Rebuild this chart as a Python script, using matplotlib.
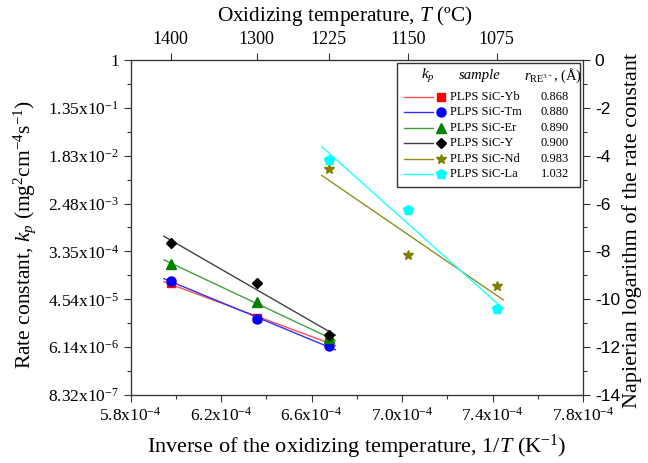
import numpy as np
import matplotlib
matplotlib.use('Agg')
import matplotlib.pyplot as plt
from matplotlib.patches import Rectangle
from matplotlib.lines import Line2D
from matplotlib.ticker import MultipleLocator

plt.rcParams['font.family'] = ['Liberation Serif', 'DejaVu Serif']
plt.rcParams['mathtext.fontset'] = 'custom'
plt.rcParams['mathtext.rm'] = 'Liberation Serif'
plt.rcParams['mathtext.it'] = 'Liberation Serif:italic'
plt.rcParams['mathtext.bf'] = 'Liberation Serif:bold'

# oxidizing temperatures (deg C) for the two groups of samples
temp_low_re = [1400, 1300, 1225]
temp_high_re = [1225, 1150, 1075]

# Napierian logarithm of kp
ln_Yb = [-9.33, -10.80, -11.77]
ln_Tm = [-9.22, -10.82, -11.95]
ln_Er = [-8.52, -10.10, -11.63]
ln_Y = [-7.66, -9.31, -11.49]
ln_Nd = [-4.57, -8.15, -9.43]
ln_La = [-4.18, -6.27, -10.42]

samples = ['PLPS SiC-Yb', 'PLPS SiC-Tm', 'PLPS SiC-Er', 'PLPS SiC-Y', 'PLPS SiC-Nd', 'PLPS SiC-La']
r_re = ['0.868', '0.880', '0.890', '0.900', '0.983', '1.032']

left_ticks = [0, -2, -4, -6, -8, -10, -12, -14]
left_labels = ['1', r'1.35x10$^{-1}$', r'1.83x10$^{-2}$', r'2.48x10$^{-3}$', r'3.35x10$^{-4}$',
               r'4.54x10$^{-5}$', r'6.14x10$^{-6}$', r'8.32x10$^{-7}$']
bottom_ticks = [5.8e-4, 6.2e-4, 6.6e-4, 7.0e-4, 7.4e-4, 7.8e-4]
bottom_labels = [r'5.8x10$^{-4}$', r'6.2x10$^{-4}$', r'6.6x10$^{-4}$', r'7.0x10$^{-4}$',
                 r'7.4x10$^{-4}$', r'7.8x10$^{-4}$']
top_temps = [1400, 1300, 1225, 1150, 1075]

def inv(t):
    return 1.0 / (np.asarray(t, dtype=float) + 273.15)

series = [
    (temp_low_re, ln_Yb, 's', 'red', '#ff5050'),
    (temp_low_re, ln_Tm, 'o', 'blue', '#3030ff'),
    (temp_low_re, ln_Er, '^', 'green', '#40a040'),
    (temp_low_re, ln_Y, 'D', 'black', '#404040'),
    (temp_high_re, ln_Nd, '*', '#808000', '#909020'),
    (temp_high_re, ln_La, 'p', 'cyan', '#20ffff'),
]
msizes = [5.5, 6.5, 6.5, 5.5, 7.5, 7.5]

fig = plt.figure(figsize=(6.48, 4.63), dpi=100)
ax = fig.add_axes([0.2017, 0.1469, 0.698, 0.7235])

for (t, y, m, mc, lc), ms in zip(series, msizes):
    x = inv(t)
    p = np.polyfit(x, y, 1)
    xx = np.array([x.min() - 3e-6, x.max() + 3e-6])
    ax.plot(xx, np.polyval(p, xx), color=lc, lw=1.0, zorder=2)
    ax.plot(x, y, m, color=mc, ms=ms, mec=mc, zorder=3)

ax.set_xlim(5.8e-4, 7.8e-4)
ax.set_ylim(-14, 0)
ax.set_xticks(bottom_ticks)
ax.set_xticklabels(bottom_labels)
ax.xaxis.set_minor_locator(MultipleLocator(2e-5))
ax.set_yticks(left_ticks)
ax.set_yticklabels(left_labels)
ax.yaxis.set_minor_locator(MultipleLocator(1))
ax.tick_params(which='major', length=5, width=0.8, labelsize=12.5, color='#333333')
ax.tick_params(which='minor', length=3, width=0.8, color='#333333')
ax.set_xlabel(r'Inverse of the oxidizing temperature, 1/$T$ (K$^{-1}$)', fontsize=16, labelpad=6)
ax.set_ylabel(r'Rate constant, $k_p$ (mg$^2$cm$^{-4}$s$^{-1}$)', fontsize=15.5)
ax.yaxis.set_label_coords(-0.205, 0.48)

axr = ax.twinx()
axr.set_ylim(-14, 0)
axr.set_yticks(range(-14, 1, 2))
axr.set_yticklabels([str(v) for v in range(-14, 1, 2)], family='Liberation Sans')
axr.yaxis.set_minor_locator(MultipleLocator(1))
axr.tick_params(which='major', length=5, width=0.8, labelsize=12.5, color='#333333')
axr.tick_params(which='minor', length=3, width=0.8, color='#333333')
axr.set_ylabel('Napierian logarithm of the rate constant', fontsize=16)
axr.yaxis.set_label_coords(1.087, 0.49)

axt = ax.twiny()
axt.set_xlim(ax.get_xlim())
axt.set_xticks(inv(top_temps))
axt.set_xticklabels([str(t) for t in top_temps])
axt.tick_params(which='major', length=5, width=0.8, labelsize=13, color='#333333')
axt.set_xlabel(r'Oxidizing temperature, $T$ (ºC)', fontsize=15.3, labelpad=6)
axt.xaxis.set_label_coords(0.474, 1.115)

for a in (ax, axr, axt):
    for s in a.spines.values():
        s.set_color('#333333')
        s.set_linewidth(0.8)

# hand-made legend
tr = ax.transAxes
ax.add_patch(Rectangle((0.589, 0.621), 0.404, 0.370, transform=tr, fill=False,
                       ec='#333333', lw=1.0, zorder=5))
ax.text(0.657, 0.952, r'$k_p$', transform=tr, ha='center', va='center', fontsize=11)
ax.text(0.772, 0.955, 'sample', transform=tr, ha='center', va='center', fontsize=10.5, style='italic')
ax.text(0.934, 0.952, r'$r_{\mathrm{RE}^{3+}}$, (Å)', transform=tr, ha='center', va='center', fontsize=10.5)
row_y = 0.8905
for (t, y, m, mc, lc), ms, name, r in zip(series, msizes, samples, r_re):
    ax.add_line(Line2D([0.604, 0.668], [row_y, row_y], transform=tr, color=lc, lw=1.0))
    ax.add_line(Line2D([0.686], [row_y], transform=tr, marker=m, color=mc, ms=ms, mec=mc))
    ax.text(0.706, row_y, name, transform=tr, ha='left', va='center', fontsize=9)
    ax.text(0.938, row_y, r, transform=tr, ha='center', va='center', fontsize=9)
    row_y -= 0.0463

fig.savefig('out.png', dpi=100)
